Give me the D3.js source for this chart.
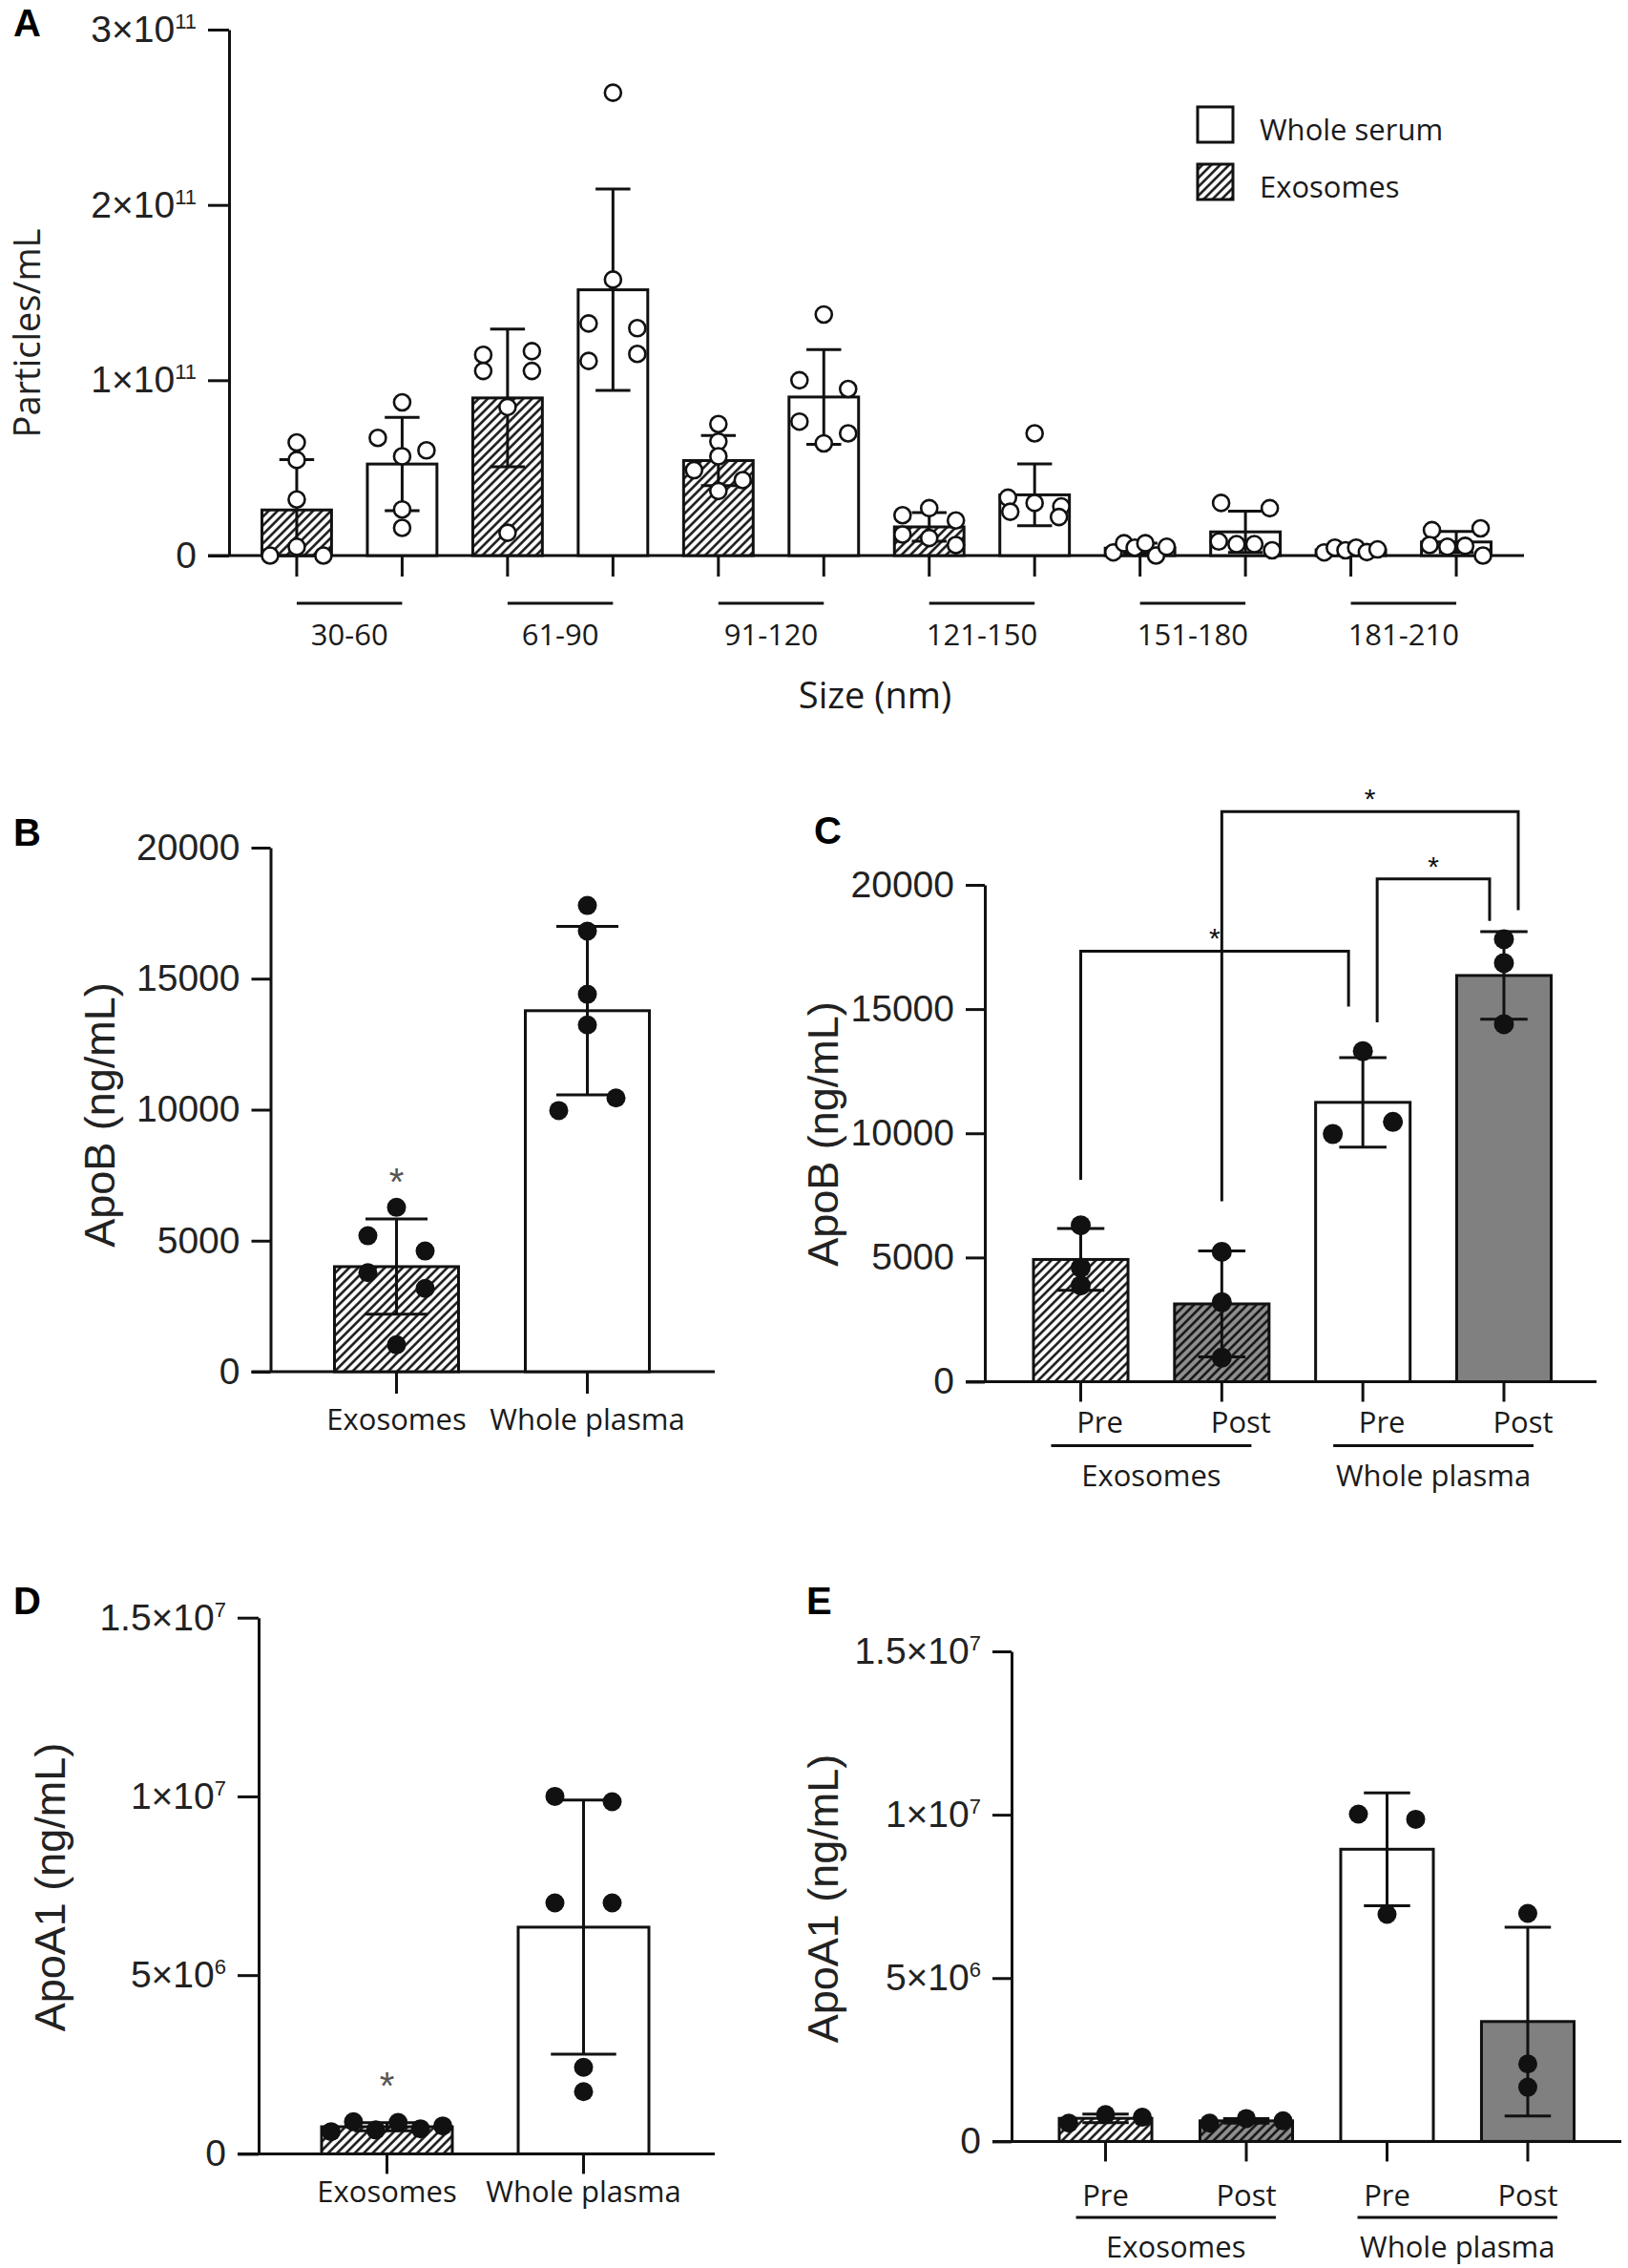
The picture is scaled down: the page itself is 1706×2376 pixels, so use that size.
<!DOCTYPE html>
<html>
<head>
<meta charset="utf-8">
<script src="https://cdn.jsdelivr.net/npm/d3@7"></script>
<style>
  body { margin: 0; background: #fff; }
  svg { display: block; }
</style>
</head>
<body>
<script>
// ---------------- data ----------------
// Panel A: particle counts, in units of 1e11 particles/mL (six samples per size bin)
var sizeBins = ["30-60", "61-90", "91-120", "121-150", "151-180", "181-210"];
var nanoSeries = ["Exosomes", "Whole serum"];
var exoParticles = [
  [0.645, 0.545, 0.32, 0, 0.05, 0],
  [1.145, 1.166, 1.053, 1.053, 0.847, 0.13],
  [0.75, 0.65, 0.487, 0.566, 0.368, 0.43],
  [0.23, 0.27, 0.2, 0.12, 0.1, 0.06],
  [0.018, 0.07, 0.045, 0.07, 0, 0.05],
  [0.018, 0.045, 0.03, 0.045, 0.02, 0.035]
];
var serumParticles = [
  [0.874, 0.566, 0.671, 0.6, 0.263, 0.158],
  [2.64, 1.574, 1.324, 1.297, 1.11, 1.15],
  [1.375, 1.0, 0.95, 0.764, 0.697, 0.64],
  [0.697, 0.33, 0.30, 0.28, 0.25, 0.22],
  [0.30, 0.27, 0.08, 0.065, 0.065, 0.03],
  [0.145, 0.155, 0.06, 0.05, 0.055, 0.0]
];
var ticksA = [0, 1, 2, 3];
var tickLabelsA = ["0", "1×10^11", "2×10^11", "3×10^11"];

// Panel B: ApoB (ng/mL)
var groupsB = ["Exosomes", "Whole plasma"];
var apoBExo = [5188, 6273, 4605, 3781, 3177, 1027];
var apoBPlasma = [17793, 16813, 14404, 13235, 9967, 10448];
var ticksApoB = [0, 5000, 10000, 15000, 20000];
var tickLabelsApoB = ["0", "5000", "10000", "15000", "20000"];

// Panel C: ApoB pre / post
var timepoints = ["Pre", "Post"];
var apoBExoPre = [6295, 4593, 3874];
var apoBExoPost = [5230, 3198, 968];
var apoBPlasmaPre = [13305, 9973, 10457];
var apoBPlasmaPost = [17812, 16852, 14392];
// significance brackets (heights in ng/mL)
var bracketsC = [
  { a: "Exosomes|Pre", b: "Whole plasma|Pre", top: 17330, legA: 8130, legB: 15100, label: "*" },
  { a: "Exosomes|Post", b: "Whole plasma|Post", top: 22950, legA: 7260, legB: 18980, label: "*" },
  { a: "Whole plasma|Pre", b: "Whole plasma|Post", top: 20240, legA: 14470, legB: 18550, label: "*" }
];

// Panel D: ApoA1 (ng/mL)
var apoA1Exo = [0.62e6, 0.90e6, 0.67e6, 0.876e6, 0.70e6, 0.78e6];
var apoA1Plasma = [10.0e6, 9.85e6, 7.02e6, 7.02e6, 2.42e6, 1.74e6];
var ticksApoA1 = [0, 5e6, 1e7, 1.5e7];
var tickLabelsApoA1 = ["0", "5×10^6", "1×10^7", "1.5×10^7"];

// Panel E: ApoA1 pre / post
var apoA1ExoPre = [0.56e6, 0.82e6, 0.74e6];
var apoA1ExoPost = [0.56e6, 0.70e6, 0.63e6];
var apoA1PlasmaPre = [10.02e6, 9.86e6, 6.95e6];
var apoA1PlasmaPost = [6.98e6, 2.37e6, 1.66e6];

// ---------------- setup ----------------
var W = 1706, H = 2376;
var INK = "#111";
var NUM_FONT = "'Liberation Sans', Arial, sans-serif";
var CAT_FONT = "'Open Sans', 'Noto Sans', sans-serif";

var svg = d3.select("body").append("svg").attr("width", W).attr("height", H);
svg.append("rect").attr("width", W).attr("height", H).attr("fill", "#fff");

var defs = svg.append("defs");
function hatch(id, bg) {
  var s = 6.6;
  var p = defs.append("pattern").attr("id", id)
    .attr("patternUnits", "userSpaceOnUse")
    .attr("width", s).attr("height", s)
    .attr("patternTransform", "rotate(45)");
  p.append("rect").attr("width", s).attr("height", s).attr("fill", bg);
  p.append("line").attr("x1", s / 2).attr("x2", s / 2).attr("y1", 0).attr("y2", s)
    .attr("stroke", "#111").attr("stroke-width", 2.5);
}
hatch("hatchLight", "#fff");
hatch("hatchDark", "#8e8e8e");
var fills = { hatch: "url(#hatchLight)", darkhatch: "url(#hatchDark)", white: "#fff", grey: "#808080" };

// spread points of one bar sideways (rows of overlapping points)
function swarm(vals, y, r, bw) {
  var d = 2 * r;
  var pts = vals.map(function(v, i) { return { v: v, i: i, y: y(v), dx: 0 }; });
  var rows = [];
  pts.slice().sort(function(a, b) { return a.y - b.y; }).forEach(function(p) {
    var row = rows[rows.length - 1];
    if (row && p.y - row[0].y < 0.85 * d) row.push(p); else rows.push([p]);
  });
  rows.forEach(function(row) {
    row.sort(function(a, b) { return a.i - b.i; });
    var k = row.length;
    var s = k > 1 ? Math.min(3 * d, (bw - d) / (k - 1)) : 0;
    row.forEach(function(p, j) { p.dx = (j - (k - 1) / 2) * s; });
  });
  return pts;
}

function yTickText(g, ticks, labels) {
  g.selectAll(".tick text").each(function(d) {
    var t = d3.select(this);
    var parts = labels[ticks.indexOf(d)].split("^");
    t.text(null);
    t.append("tspan").text(parts[0]);
    if (parts[1]) t.append("tspan").attr("font-size", 22).attr("dy", -14).text(parts[1]);
  });
}

function drawPanel(p) {
  var g = svg.append("g");
  var y = d3.scaleLinear().domain([0, p.yMax]).range([p.y0, p.yTop]);
  var x = d3.scaleBand().domain(p.bars.map(function(b) { return b.key; }))
    .range(p.barRange).paddingInner(p.pad);
  var bw = x.bandwidth();
  var cx = function(k) { return x(k) + bw / 2; };

  // y axis
  var ya = g.append("g").attr("transform", "translate(" + p.axisX + ",0)")
    .call(d3.axisLeft(y).tickValues(p.ticks).tickSize(p.yTick).tickSizeOuter(0).tickPadding(12));
  ya.attr("color", INK).attr("font-family", NUM_FONT).attr("font-size", 39);
  ya.selectAll("path, line").attr("stroke-width", 3);
  ya.selectAll(".tick text").attr("fill", "#222").attr("dy", "0.32em");
  yTickText(ya, p.ticks, p.tickLabels);

  // x axis baseline and ticks
  g.append("line").attr("x1", p.axisX - p.yTick).attr("x2", p.xEnd)
    .attr("y1", p.y0).attr("y2", p.y0).attr("stroke", INK).attr("stroke-width", 3);
  var xa = g.append("g").attr("transform", "translate(0," + p.y0 + ")")
    .call(d3.axisBottom(x).tickSize(p.xTick).tickFormat(""));
  xa.select(".domain").remove();
  xa.attr("color", INK).selectAll("line").attr("stroke-width", 3);

  // bars
  p.bars.forEach(function(b) {
    b.mean = d3.mean(b.values);
    b.sd = d3.deviation(b.values);
    g.append("rect")
      .attr("x", x(b.key)).attr("width", bw)
      .attr("y", y(b.mean)).attr("height", y(0) - y(b.mean))
      .attr("fill", fills[b.fill]).attr("stroke", INK).attr("stroke-width", 3);
  });
  // error bars (mean ± SD)
  p.bars.forEach(function(b) {
    var c = cx(b.key), hi = y(b.mean + b.sd), lo = y(Math.max(0, b.mean - b.sd));
    var eg = g.append("g").attr("stroke", INK).attr("stroke-width", 3);
    eg.append("line").attr("x1", c).attr("x2", c).attr("y1", hi).attr("y2", lo);
    [hi, lo].forEach(function(yy) {
      eg.append("line").attr("x1", c - bw / 4).attr("x2", c + bw / 4).attr("y1", yy).attr("y2", yy);
    });
  });
  // points
  p.bars.forEach(function(b) {
    g.append("g").selectAll("circle").data(swarm(b.values, y, p.r, bw)).enter().append("circle")
      .attr("cx", function(d) { return cx(b.key) + d.dx; })
      .attr("cy", function(d) { return d.y; })
      .attr("r", p.r)
      .attr("fill", p.open ? "#fff" : INK)
      .attr("stroke", INK).attr("stroke-width", p.open ? 2.6 : 0);
  });

  // y title
  g.append("text")
    .attr("transform", "translate(" + p.titleX + "," + p.titleY + ") rotate(-90)")
    .attr("text-anchor", "middle").attr("dominant-baseline", "central")
    .attr("font-family", p.titleFont).attr("font-size", p.titleSize).attr("fill", "#222")
    .text(p.title);
  // panel letter
  g.append("text").attr("x", p.letterX).attr("y", p.letterY)
    .attr("font-family", NUM_FONT).attr("font-weight", "bold").attr("font-size", 40)
    .attr("fill", "#000").text(p.letter);

  return { g: g, x: x, y: y, cx: cx, bw: bw };
}

function catText(g, x, yy, txt) {
  g.append("text").attr("x", x).attr("y", yy)
    .attr("text-anchor", "middle").attr("dominant-baseline", "central")
    .attr("font-family", CAT_FONT).attr("font-size", 31).attr("fill", "#1a1a1a").text(txt);
}

// ---------------- Panel A ----------------
var barsA = [];
sizeBins.forEach(function(bin, i) {
  nanoSeries.forEach(function(s) {
    barsA.push({
      key: bin + "|" + s,
      values: s === "Exosomes" ? exoParticles[i] : serumParticles[i],
      fill: s === "Exosomes" ? "hatch" : "white"
    });
  });
});
var pA = drawPanel({
  bars: barsA, yMax: 3, ticks: ticksA, tickLabels: tickLabelsA,
  y0: 582, yTop: 31, axisX: 240, xEnd: 1597, barRange: [274.5, 1562.5], pad: 0.34,
  yTick: 22, xTick: 22, r: 8.5, open: true,
  title: "Particles/mL", titleX: 27, titleY: 349, titleFont: CAT_FONT, titleSize: 38,
  letter: "A", letterX: 14, letterY: 38
});
sizeBins.forEach(function(bin) {
  var c1 = pA.cx(bin + "|" + nanoSeries[0]), c2 = pA.cx(bin + "|" + nanoSeries[1]);
  pA.g.append("line").attr("x1", c1).attr("x2", c2).attr("y1", 632).attr("y2", 632)
    .attr("stroke", INK).attr("stroke-width", 3);
  catText(pA.g, (c1 + c2) / 2, 664, bin);
});
pA.g.append("text").attr("x", 917).attr("y", 727)
  .attr("text-anchor", "middle").attr("dominant-baseline", "central")
  .attr("font-family", CAT_FONT).attr("font-size", 38).attr("fill", "#1a1a1a").text("Size (nm)");
// legend
[["Whole serum", "white", 112], ["Exosomes", "hatch", 172]].forEach(function(l) {
  pA.g.append("rect").attr("x", 1255).attr("y", l[2]).attr("width", 37).attr("height", 37)
    .attr("fill", fills[l[1]]).attr("stroke", INK).attr("stroke-width", 3);
  pA.g.append("text").attr("x", 1320).attr("y", l[2] + 23)
    .attr("dominant-baseline", "central")
    .attr("font-family", CAT_FONT).attr("font-size", 31).attr("fill", "#1a1a1a").text(l[0]);
});

// ---------------- Panel B ----------------
var pB = drawPanel({
  bars: [
    { key: groupsB[0], values: apoBExo, fill: "hatch" },
    { key: groupsB[1], values: apoBPlasma, fill: "white" }
  ],
  yMax: 20000, ticks: ticksApoB, tickLabels: tickLabelsApoB,
  y0: 1437, yTop: 888, axisX: 283.5, xEnd: 749, barRange: [350.5, 680.5], pad: 0.35,
  yTick: 20, xTick: 23, r: 10, open: false,
  title: "ApoB (ng/mL)", titleX: 104, titleY: 1168, titleFont: NUM_FONT, titleSize: 45,
  letter: "B", letterX: 14, letterY: 886
});
groupsB.forEach(function(k) { catText(pB.g, pB.cx(k), 1486, k); });

// ---------------- Panel D ----------------
var pD = drawPanel({
  bars: [
    { key: groupsB[0], values: apoA1Exo, fill: "hatch" },
    { key: groupsB[1], values: apoA1Plasma, fill: "white" }
  ],
  yMax: 1.5e7, ticks: ticksApoA1, tickLabels: tickLabelsApoA1,
  y0: 2256.4, yTop: 1694.7, axisX: 271, xEnd: 749, barRange: [337, 680], pad: 0.335,
  yTick: 22, xTick: 21, r: 10, open: false,
  title: "ApoA1 (ng/mL)", titleX: 52, titleY: 1977, titleFont: NUM_FONT, titleSize: 45,
  letter: "D", letterX: 14, letterY: 1691
});
groupsB.forEach(function(k) { catText(pD.g, pD.cx(k), 2295, k); });

// significance stars over exosome bars (B, D)
[pB, pD].forEach(function(pp) {
  var b = pp.x.domain()[0];
  var vals = pp === pB ? apoBExo : apoA1Exo;
  var top = pp.y(d3.mean(vals) + d3.deviation(vals));
  pp.g.append("text").attr("x", pp.cx(b)).attr("y", top - 48 + 23)
    .attr("text-anchor", "middle").attr("font-family", NUM_FONT).attr("font-size", 40)
    .attr("fill", "#555").text("*");
});

// ---------------- Panels C and E (pre / post) ----------------
function prePostBars(exoPre, exoPost, plPre, plPost) {
  return [
    { key: "Exosomes|Pre", values: exoPre, fill: "hatch" },
    { key: "Exosomes|Post", values: exoPost, fill: "darkhatch" },
    { key: "Whole plasma|Pre", values: plPre, fill: "white" },
    { key: "Whole plasma|Post", values: plPost, fill: "grey" }
  ];
}
function prePostLabels(pp, shift, labY, lineY, grpY) {
  var step = pp.x.step();
  groupsB.forEach(function(grp) {
    var c1 = pp.cx(grp + "|" + timepoints[0]), c2 = pp.cx(grp + "|" + timepoints[1]);
    timepoints.forEach(function(t) { catText(pp.g, pp.cx(grp + "|" + t) + shift, labY, t); });
    var mid = (c1 + c2) / 2;
    pp.g.append("line").attr("x1", mid - 0.71 * step).attr("x2", mid + 0.71 * step)
      .attr("y1", lineY).attr("y2", lineY).attr("stroke", INK).attr("stroke-width", 3);
    catText(pp.g, mid, grpY, grp);
  });
}

var pC = drawPanel({
  bars: prePostBars(apoBExoPre, apoBExoPost, apoBPlasmaPre, apoBPlasmaPost),
  yMax: 20000, ticks: ticksApoB, tickLabels: tickLabelsApoB,
  y0: 1447.5, yTop: 927, axisX: 1032, xEnd: 1673, barRange: [1083, 1625.5], pad: 0.33,
  yTick: 20, xTick: 21, r: 10.5, open: false,
  title: "ApoB (ng/mL)", titleX: 862, titleY: 1188, titleFont: NUM_FONT, titleSize: 45,
  letter: "C", letterX: 853, letterY: 884
});
prePostLabels(pC, 20, 1489, 1514.5, 1545);

// brackets for C
(function() {
  var legs = {};
  bracketsC.forEach(function(bk, i) {
    [["a", "b"], ["b", "a"]].forEach(function(pr) {
      var k = bk[pr[0]], dist = pC.cx(bk[pr[1]]) - pC.cx(k);
      (legs[k] = legs[k] || []).push({ i: i, end: pr[0], key: dist < 0 ? -dist : 1e6 - dist });
    });
  });
  var off = {};
  Object.keys(legs).forEach(function(k) {
    var L = legs[k].sort(function(a, b) { return a.key - b.key; });
    L.forEach(function(l, j) { off[l.i + l.end] = (j - (L.length - 1) / 2) * 30; });
  });
  bracketsC.forEach(function(bk, i) {
    var xa = pC.cx(bk.a) + off[i + "a"], xb = pC.cx(bk.b) + off[i + "b"];
    var yt = pC.y(bk.top);
    pC.g.append("path")
      .attr("d", "M" + xa + "," + pC.y(bk.legA) + "V" + yt + "H" + xb + "V" + pC.y(bk.legB))
      .attr("fill", "none").attr("stroke", INK).attr("stroke-width", 3);
    pC.g.append("text").attr("x", (xa + xb) / 2).attr("y", yt - 20 + 17)
      .attr("text-anchor", "middle").attr("font-family", NUM_FONT).attr("font-size", 30)
      .attr("fill", INK).text(bk.label);
  });
})();

var pE = drawPanel({
  bars: prePostBars(apoA1ExoPre, apoA1ExoPost, apoA1PlasmaPre, apoA1PlasmaPost),
  yMax: 1.5e7, ticks: ticksApoA1, tickLabels: tickLabelsApoA1,
  y0: 2243.4, yTop: 1730, axisX: 1060, xEnd: 1699, barRange: [1110, 1649.5], pad: 0.342,
  yTick: 20, xTick: 21, r: 10, open: false,
  title: "ApoA1 (ng/mL)", titleX: 862, titleY: 1989, titleFont: NUM_FONT, titleSize: 45,
  letter: "E", letterX: 845, letterY: 1691
});
prePostLabels(pE, 0, 2299, 2323, 2353);
</script>
</body>
</html>
